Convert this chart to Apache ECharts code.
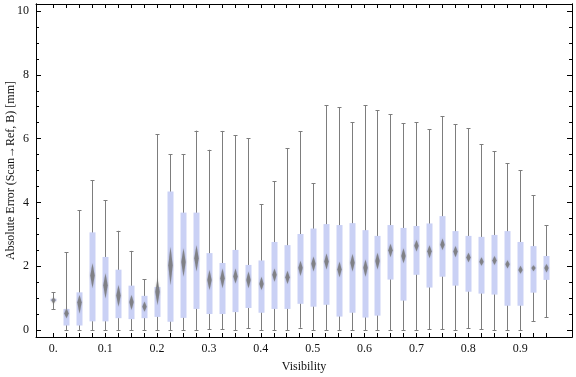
<!DOCTYPE html>
<html>
<head>
<meta charset="utf-8">
<script src="https://cdn.jsdelivr.net/npm/echarts@6/dist/echarts.min.js"></script>
<style>
  html, body { margin: 0; padding: 0; background: #fff; }
  #main { width: 576px; height: 377px; }
</style>
</head>
<body>
<div id="main"></div>
<script type="text/javascript">
// box positions along the visibility axis
var visibility = [0, 0.025, 0.05, 0.075, 0.1, 0.125, 0.15, 0.175, 0.2, 0.225,
  0.25, 0.275, 0.3, 0.325, 0.35, 0.375, 0.4, 0.425, 0.45, 0.475,
  0.5, 0.525, 0.55, 0.575, 0.6, 0.625, 0.65, 0.675, 0.7, 0.725,
  0.75, 0.775, 0.8, 0.825, 0.85, 0.875, 0.9, 0.925, 0.95];
// whisker ends
var whiskerLow = [0.65, 0, 0, 0, 0, 0, 0, 0, 0, 0,
  0, 0, 0.02, 0.02, 0, 0.05, 0, 0, 0, 0.07,
  0, 0, 0, 0, 0, 0, 0, 0, 0, 0.03,
  0.03, 0, 0.05, 0.03, 0, 0, 0, 0.27, 0.40];
var whiskerHigh = [1.19, 2.44, 3.75, 4.69, 4.06, 3.11, 2.48, 1.59, 6.14, 5.51,
  5.51, 6.25, 5.65, 6.24, 6.10, 6.01, 3.94, 4.66, 5.69, 6.23,
  4.60, 7.05, 6.98, 6.51, 7.05, 6.89, 6.77, 6.48, 6.51, 6.29,
  6.70, 6.45, 6.32, 5.82, 5.60, 5.22, 5.01, 4.22, 3.28];
// quartiles and median
var q1 = [0.90, 0.14, 0.14, 0.27, 0.27, 0.37, 0.34, 0.37, 0.41, 0.26,
  0.38, 0.66, 0.50, 0.50, 0.56, 0.69, 0.54, 0.66, 0.66, 0.82,
  0.73, 0.79, 0.42, 0.54, 0.39, 0.45, 1.58, 0.92, 1.73, 1.33,
  1.67, 1.39, 1.20, 1.14, 1.11, 0.76, 0.76, 1.17, 1.57];
var median = [0.94, 0.52, 0.87, 1.71, 1.40, 1.08, 0.88, 0.73, 1.20, 2.03,
  2.13, 2.25, 1.57, 1.62, 1.68, 1.57, 1.44, 1.73, 1.65, 1.95,
  2.08, 2.15, 1.90, 2.11, 1.95, 2.16, 2.50, 2.32, 2.64, 2.47,
  2.67, 2.46, 2.27, 2.14, 2.18, 2.06, 1.88, 1.94, 1.94];
var q3 = [0.98, 0.66, 1.18, 3.06, 2.29, 1.89, 1.39, 1.07, 1.35, 4.34,
  3.68, 3.68, 2.41, 2.10, 2.51, 2.04, 2.18, 2.76, 2.66, 3.01,
  3.18, 3.32, 3.29, 3.35, 3.13, 2.95, 3.29, 3.20, 3.26, 3.34,
  3.57, 3.10, 2.95, 2.92, 2.98, 3.10, 2.76, 2.63, 2.32];
// median notch (diamond) extent
var notchLow = [0.81, 0.37, 0.52, 1.31, 0.99, 0.73, 0.63, 0.57, 0.78, 1.41,
  1.67, 1.83, 1.25, 1.31, 1.46, 1.31, 1.25, 1.51, 1.44, 1.69,
  1.83, 1.90, 1.65, 1.83, 1.67, 1.90, 2.28, 2.09, 2.46, 2.25,
  2.51, 2.28, 2.12, 2.01, 2.04, 1.93, 1.76, 1.84, 1.80];
var notchHigh = [1.02, 0.68, 1.10, 2.09, 1.78, 1.41, 1.10, 0.89, 1.62, 2.61,
  2.56, 2.66, 1.88, 1.93, 1.93, 1.83, 1.67, 1.93, 1.86, 2.17,
  2.30, 2.40, 2.14, 2.38, 2.21, 2.42, 2.70, 2.56, 2.82, 2.66,
  2.87, 2.63, 2.42, 2.28, 2.32, 2.19, 2.01, 2.03, 2.07];

var xLabelValues = [0, 0.1, 0.2, 0.3, 0.4, 0.5, 0.6, 0.7, 0.8, 0.9];
var yLabelValues = [0, 2, 4, 6, 8, 10];
var yMinorValues = [0, 0.5, 1, 1.5, 2, 2.5, 3, 3.5, 4, 4.5, 5, 5.5, 6, 6.5, 7, 7.5, 8, 8.5, 9, 9.5, 10];

var boxData = visibility.map(function (v, i) {
  return [v, whiskerLow[i], q1[i], median[i], q3[i], whiskerHigh[i], notchLow[i], notchHigh[i]];
});

var font = 'Liberation Serif';
var frameLine = { show: true, onZero: false, lineStyle: { color: '#000', width: 1 } };

function renderBox(params, api) {
  var x = api.value(0);
  var lo = api.coord([x, api.value(1)]);
  var b1 = api.coord([x, api.value(2)]);
  var md = api.coord([x, api.value(3)]);
  var b3 = api.coord([x, api.value(4)]);
  var hi = api.coord([x, api.value(5)]);
  var nl = api.coord([x, api.value(6)]);
  var nh = api.coord([x, api.value(7)]);
  var cx = Math.round(lo[0]) + 0.5;
  var bw = 6, dw = 2.2;
  var grey = '#7d7d7d';
  return {
    type: 'group',
    children: [
      { type: 'line', shape: { x1: cx, y1: lo[1], x2: cx, y2: hi[1] },
        style: { stroke: grey, lineWidth: 1 } },
      { type: 'line', shape: { x1: cx - 2, y1: Math.round(lo[1]) + 0.5, x2: cx + 2, y2: Math.round(lo[1]) + 0.5 },
        style: { stroke: grey, lineWidth: 1 } },
      { type: 'line', shape: { x1: cx - 2, y1: Math.round(hi[1]) + 0.5, x2: cx + 2, y2: Math.round(hi[1]) + 0.5 },
        style: { stroke: grey, lineWidth: 1 } },
      { type: 'rect', shape: { x: cx - bw / 2, y: b3[1], width: bw, height: b1[1] - b3[1] },
        style: { fill: '#cad1f5' } },
      { type: 'polygon',
        shape: { points: [[cx, nh[1]], [cx + dw, md[1]], [cx, nl[1]], [cx - dw, md[1]]] },
        style: { fill: '#767676', opacity: 0.8, shadowBlur: 2, shadowColor: 'rgba(110,110,110,0.5)' } }
    ]
  };
}

var myChart = echarts.init(document.getElementById('main'));
var option = {
  backgroundColor: '#fff',
  animation: false,
  grid: { left: 36, right: 4, top: 4, bottom: 40, containLabel: false, outerBoundsMode: 'none' },
  xAxis: [
    {
      type: 'value', min: -0.0334, max: 1.0, position: 'bottom',
      name: 'Visibility', nameLocation: 'middle', nameGap: 24, nameMoveOverlap: false,
      nameTextStyle: { fontFamily: font, fontSize: 12, color: '#111' },
      axisLine: frameLine,
      axisTick: { show: true, inside: true, length: 4, customValues: visibility, lineStyle: { color: '#000' } },
      axisLabel: {
        show: true, customValues: xLabelValues, margin: 6,
        fontFamily: font, fontSize: 12, color: '#111',
        formatter: function (v) { return v === 0 ? '0.' : v.toFixed(1); }
      },
      splitLine: { show: false }
    },
    {
      type: 'value', min: -0.0334, max: 1.0, position: 'top',
      axisLine: frameLine,
      axisTick: { show: true, inside: true, length: 4, customValues: visibility, lineStyle: { color: '#000' } },
      axisLabel: { show: false },
      splitLine: { show: false }
    }
  ],
  yAxis: [
    {
      type: 'value', min: -0.22, max: 10.22, position: 'left',
      name: 'Absolute Error (Scan\u2192Ref, B) [mm]', nameLocation: 'middle', nameGap: 19, nameMoveOverlap: false,
      nameTextStyle: { fontFamily: font, fontSize: 12, color: '#111' },
      axisLine: frameLine,
      axisTick: { show: true, inside: true, length: 5, customValues: yLabelValues, lineStyle: { color: '#000' } },
      axisLabel: { show: true, customValues: yLabelValues, margin: 7, fontFamily: font, fontSize: 12, color: '#111' },
      splitLine: { show: false }
    },
    {
      type: 'value', min: -0.22, max: 10.22, position: 'left',
      axisLine: frameLine,
      axisTick: { show: true, inside: true, length: 3, customValues: yMinorValues, lineStyle: { color: '#000' } },
      axisLabel: { show: false },
      splitLine: { show: false }
    },
    {
      type: 'value', min: -0.22, max: 10.22, position: 'right',
      axisLine: frameLine,
      axisTick: { show: true, inside: true, length: 5, customValues: yLabelValues, lineStyle: { color: '#000' } },
      axisLabel: { show: false },
      splitLine: { show: false }
    },
    {
      type: 'value', min: -0.22, max: 10.22, position: 'right',
      axisLine: frameLine,
      axisTick: { show: true, inside: true, length: 3, customValues: yMinorValues, lineStyle: { color: '#000' } },
      axisLabel: { show: false },
      splitLine: { show: false }
    }
  ],
  series: [{
    type: 'custom',
    xAxisIndex: 0,
    yAxisIndex: 0,
    renderItem: renderBox,
    encode: { x: 0, y: [1, 2, 3, 4, 5] },
    data: boxData
  }]
};
myChart.setOption(option);
</script>
</body>
</html>
